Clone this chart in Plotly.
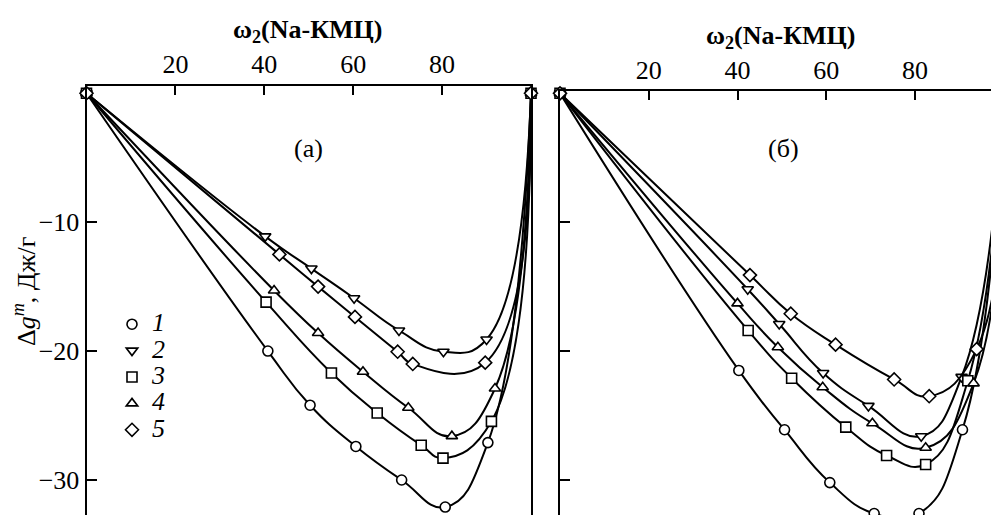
import plotly.graph_objects as go

# ---------------- data ----------------
series_names = ["1", "2", "3", "4", "5"]
symbols = ["circle", "triangle-down", "square", "triangle-up", "diamond"]

# panel (а)
a1_x = [0, 40.8, 50.3, 60.6, 70.9, 80.7, 90.3, 100]
a1_y = [0, -20.0, -24.2, -27.4, -30.0, -32.1, -27.1, 0]
a2_x = [0, 40.2, 50.6, 60.2, 70.3, 80.3, 90.0, 100]
a2_y = [0, -11.1, -13.6, -15.9, -18.4, -20.05, -19.1, 0]
a3_x = [0, 40.4, 55.1, 65.4, 75.3, 80.2, 91.1, 100]
a3_y = [0, -16.2, -21.7, -24.8, -27.3, -28.3, -25.45, 0]
a4_x = [0, 42.2, 52.1, 62.2, 72.4, 82.2, 91.9, 100]
a4_y = [0, -15.3, -18.6, -21.6, -24.4, -26.6, -22.9, 0]
a5_x = [0, 43.4, 52.1, 60.4, 70.0, 73.4, 89.7, 100]
a5_y = [0, -12.5, -15.0, -17.35, -20.05, -21.0, -20.9, 0]

# panel (б)
b1_x = [0, 40.3, 50.6, 60.8, 70.8, 80.9, 90.7, 100]
b1_y = [0, -21.5, -26.1, -30.2, -32.6, -32.6, -26.1, 0]
b2_x = [0, 42.3, 49.4, 59.3, 69.5, 81.4, 90.5, 100]
b2_y = [0, -15.2, -17.9, -21.7, -24.25, -26.6, -22.0, 0]
b3_x = [0, 42.4, 52.2, 64.4, 73.6, 82.4, 91.9, 100]
b3_y = [0, -18.4, -22.1, -25.9, -28.1, -28.8, -22.3, 0]
b4_x = [0, 40.0, 49.1, 59.2, 70.4, 82.4, 93.2, 100]
b4_y = [0, -16.3, -19.7, -22.8, -25.6, -27.5, -22.5, 0]
b5_x = [0, 42.8, 52.0, 62.1, 75.3, 83.2, 93.9, 100]
b5_y = [0, -14.1, -17.1, -19.5, -22.2, -23.5, -19.85, 0]

x_tick_vals = [20, 40, 60, 80]
y_tick_vals = [-10, -20, -30]

panel_a = [(a1_x, a1_y), (a2_x, a2_y), (a3_x, a3_y), (a4_x, a4_y), (a5_x, a5_y)]
panel_b = [(b1_x, b1_y), (b2_x, b2_y), (b3_x, b3_y), (b4_x, b4_y), (b5_x, b5_y)]

FONT = "Liberation Serif"
W, H = 999, 515
OFF = 8  # page body margin of the exported html


def px(v):
    """target screen pixel -> paper pixel"""
    return v - OFF


def fx(v):
    return px(v) / W


def fy(v):
    return 1 - px(v) / H


fig = go.Figure()


def add_panel(data, xa, ya):
    for (xs, ys), sym in zip(data, symbols):
        fig.add_trace(go.Scatter(
            x=xs, y=ys, xaxis=xa, yaxis=ya, mode="lines+markers",
            line=dict(color="black", width=2, shape="spline", smoothing=1.3),
            marker=dict(symbol=sym, size=10, color="white",
                        line=dict(color="black", width=1.6)),
            cliponaxis=False, showlegend=False, hoverinfo="skip"))


add_panel(panel_a, "x", "y")
add_panel(panel_b, "x2", "y2")

# legend entries (markers only)
for name, sym in zip(series_names, symbols):
    fig.add_trace(go.Scatter(
        x=[None], y=[None], mode="markers",
        name='<span style="font-size:26px">' + name + "</span>",
        marker=dict(symbol=sym, size=10, color="white",
                    line=dict(color="black", width=1.6)),
        showlegend=True))

axis_common = dict(showline=True, linecolor="black", linewidth=2,
                   showgrid=False, zeroline=False, ticks="inside",
                   tickcolor="black", tickwidth=2,
                   tickfont=dict(family=FONT, size=26, color="black"))

# y range: 0 at screen y 93.3, 12.89 px per unit
y_bottom = -(H + OFF - 93.3) / 12.89

fig.update_layout(
    width=W, height=H,
    margin=dict(l=0, r=0, t=0, b=0),
    paper_bgcolor="white", plot_bgcolor="white",
    xaxis=dict(domain=[fx(86.5), fx(531)], range=[0, 100], side="top",
               anchor="y", tickvals=x_tick_vals, ticklen=9, **axis_common),
    yaxis=dict(domain=[0, fy(85.5)], range=[y_bottom, 0.6], anchor="x",
               mirror=True, tickvals=y_tick_vals, ticklen=10, **axis_common),
    xaxis2=dict(domain=[fx(560), 1.0], range=[0, (W + OFF - 560) / 4.4375],
                side="top", anchor="y2", tickvals=x_tick_vals, ticklen=9,
                **axis_common),
    yaxis2=dict(domain=[0, fy(91)], range=[y_bottom, 0.18], anchor="x2",
                tickvals=y_tick_vals, ticklen=10, showticklabels=False,
                **axis_common),
    legend=dict(x=px(112) / W, y=fy(306), xanchor="left", yanchor="top",
                bgcolor="rgba(0,0,0,0)", tracegroupgap=0,
                font=dict(family=FONT, size=18, color="black", style="italic")),
    showlegend=True,
)

title_font = dict(family=FONT, size=26, color="black", weight="bold")
ann_common = dict(xref="paper", yref="paper", showarrow=False,
                  xanchor="center", yanchor="middle")
fig.add_annotation(text="ω<sub>2</sub>(Na-КМЦ)", x=fx(307), y=fy(31),
                   font=title_font, **ann_common)
fig.add_annotation(text="ω<sub>2</sub>(Na-КМЦ)", x=fx(780), y=fy(37),
                   font=title_font, **ann_common)
fig.add_annotation(text="Δ<i>g<sup>m</sup></i>, Дж/г", x=fx(24), y=fy(292),
                   textangle=-90, font=dict(family=FONT, size=26, color="black"),
                   **ann_common)
fig.add_annotation(text="(а)", x=fx(308), y=fy(149),
                   font=dict(family=FONT, size=26, color="black"), **ann_common)
fig.add_annotation(text="(б)", x=fx(783), y=fy(148),
                   font=dict(family=FONT, size=26, color="black"), **ann_common)

fig.write_html("out.html")
